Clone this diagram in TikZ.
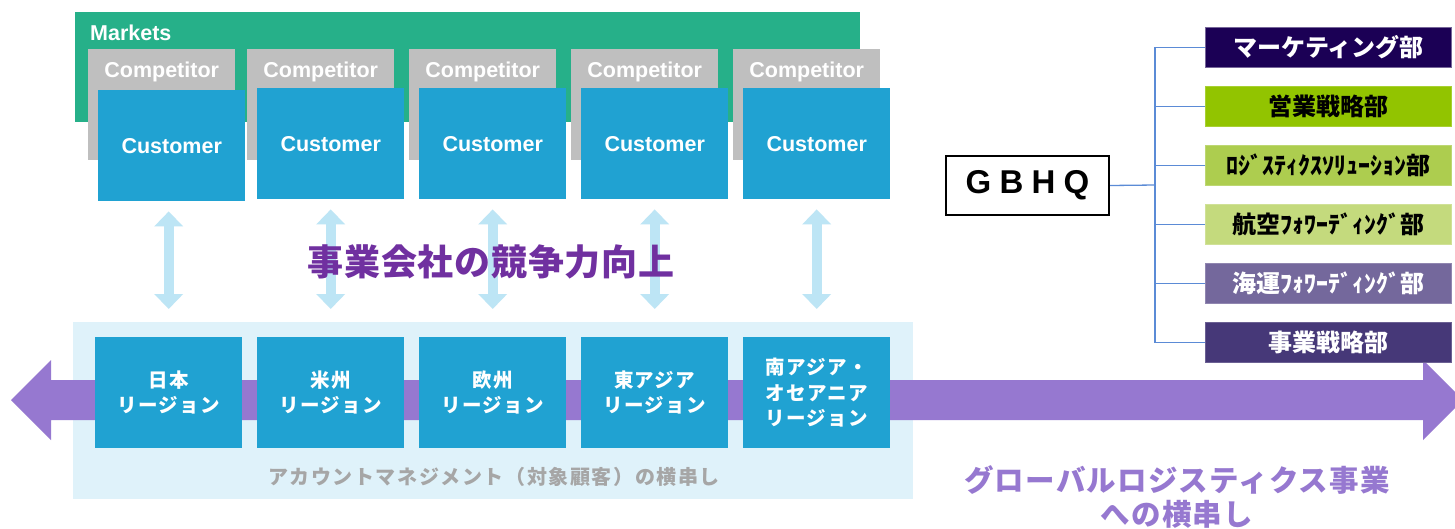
\documentclass[tikz,border=0pt]{standalone}
\usepackage{fontspec}
\setmainfont{Liberation Sans}
\newfontfamily\jp{Noto Sans CJK JP}
\usetikzlibrary{arrows.meta,calc}
\definecolor{mkgreen}{RGB}{38,176,137}
\definecolor{compgrey}{RGB}{191,191,191}
\definecolor{custblue}{RGB}{32,162,210}
\definecolor{panelblue}{RGB}{223,242,250}
\definecolor{lightarrow}{RGB}{189,229,245}
\definecolor{bandpurple}{RGB}{150,120,208}
\definecolor{titlepurple}{RGB}{112,48,160}
\definecolor{panelgrey}{RGB}{166,166,166}
\definecolor{connblue}{RGB}{91,139,214}
\definecolor{dnavy}{RGB}{27,0,85}
\definecolor{dgreen}{RGB}{146,196,0}
\definecolor{dlgreen}{RGB}{173,205,79}
\definecolor{dllgreen}{RGB}{196,218,125}
\definecolor{dpgrey}{RGB}{116,104,156}
\definecolor{dpurple}{RGB}{70,56,120}
\tikzset{
  box/.style={anchor=north west, inner sep=0pt, minimum width=147pt, minimum height=111pt},
  compbox/.style={box, fill=compgrey},
  custbox/.style={box, fill=custblue, text=white, font=\bfseries\fontsize{21.5}{25}\selectfont},
  comptext/.style={text=white, font=\bfseries\fontsize{21.5}{25}\selectfont},
  regbox/.style={box, fill=custblue, text=white, align=center,
    font=\jp\bfseries\fontsize{19.5}{25.5}\selectfont\addfontfeatures{LetterSpace=7}},
  vbi/.style={draw=lightarrow, line width=10pt, {Triangle[width=28pt,length=15pt]}-{Triangle[width=28pt,length=15pt]}},
  dept/.style={anchor=north west, inner sep=0pt, minimum width=246pt, minimum height=40pt,
    font=\jp\bfseries\fontsize{24}{26}\selectfont, line width=1pt},
  conn/.style={draw=connblue, line width=1.3pt},
}
\begin{document}
\begin{tikzpicture}[x=1pt,y=-1pt]
\useasboundingbox (0,0) rectangle (1455,528);
\fill[white] (0,0) rectangle (1455,528);
% Markets
\node[fill=mkgreen, anchor=north west, inner sep=0pt, minimum width=785pt, minimum height=110pt] (markets) at (75,12) {};
\node[anchor=west, text=white, font=\bfseries\fontsize{21.5}{24}\selectfont, inner sep=0pt] (mktext) at (90,33) {Markets};
% competitors
\foreach \i/\x in {1/88,2/247,3/409,4/571,5/733}{
  \node[compbox] (comp\i) at (\x,49) {};
  \node[comptext] (compt\i) at ($(comp\i.north)+(0,22.5)$) {Competitor};
}
% customers
\node[custbox] (cust1) at (98,90) {Customer};
\foreach \i/\x in {2/257,3/419,4/581,5/743}{
  \node[custbox] (cust\i) at (\x,88) {Customer};
}
% bottom panel
\node[fill=panelblue, anchor=north west, inner sep=0pt, minimum width=840pt, minimum height=177pt] (panel) at (73,322) {};
% purple band arrow
\fill[bandpurple] (11,400) -- (51,360) -- (51,380) -- (1423,380) -- (1423,360) -- (1463,400)
  -- (1423,440) -- (1423,420) -- (51,420) -- (51,440) -- cycle;
% regions
\node[regbox] (reg1) at (95,337) {日本\\リージョン};
\node[regbox] (reg2) at (257,337) {米州\\リージョン};
\node[regbox] (reg3) at (419,337) {欧州\\リージョン};
\node[regbox] (reg4) at (581,337) {東アジア\\リージョン};
\node[regbox] (reg5) at (743,337) {南アジア・\\オセアニア\\リージョン};
% vertical double arrows
\foreach \i in {1,...,5}{
  \draw[vbi, shorten <=10pt, shorten >=28pt] (reg\i.north |- cust\i.south) -- (reg\i.north);
}
% title
\node[text=titlepurple, font=\jp\bfseries\fontsize{36}{40}\selectfont\addfontfeatures{LetterSpace=2}] (title) at (491,262) {事業会社の競争力向上};
% panel caption
\node[text=panelgrey, font=\jp\bfseries\fontsize{20}{22}\selectfont\addfontfeatures{LetterSpace=8}] (pcap) at (494,477) {アカウントマネジメント（対象顧客）の横串し};
% right caption
\node[text=bandpurple, align=center, font=\jp\bfseries\fontsize{29.5}{34}\selectfont\addfontfeatures{LetterSpace=4}] (rcap) at (1177,497) {グローバルロジスティクス事業\\への横串し};
% GBHQ
\node[draw=black, line width=2pt, anchor=north west, minimum width=163pt, minimum height=59pt, inner sep=0pt,
  font=\bfseries\fontsize{33}{36}\selectfont\addfontfeatures{LetterSpace=25}] (gbhq) at (945,155) {GBHQ};
% departments
\node[dept, fill=dnavy, draw=dnavy!60!white, text=white] (d1) at (1205,27) {マーケティング部};
\node[dept, fill=dgreen, draw=dgreen!80!white, text=black] (d2) at (1205,86) {営業戦略部};
\node[dept, fill=dlgreen, draw=dlgreen!80!white, text=black] (d3) at (1205,145) {ﾛｼﾞｽﾃｨｸｽｿﾘｭｰｼｮﾝ部};
\node[dept, fill=dllgreen, draw=dllgreen!80!white, text=black] (d4) at (1205,204) {航空ﾌｫﾜｰﾃﾞｨﾝｸﾞ部};
\node[dept, fill=dpgrey, draw=dpgrey!80!white, text=white] (d5) at (1205,263) {海運ﾌｫﾜｰﾃﾞｨﾝｸﾞ部};
\node[dept, fill=dpurple, draw=dpurple!80!white, text=white] (d6) at (1205,322) {事業戦略部};
% connectors
\coordinate (trunk) at (1155,185);
\draw[conn] (gbhq.east) -- (trunk);
\foreach \i in {1,...,6}{
  \draw[conn] (trunk) |- (d\i.west);
}
\end{tikzpicture}
\end{document}
